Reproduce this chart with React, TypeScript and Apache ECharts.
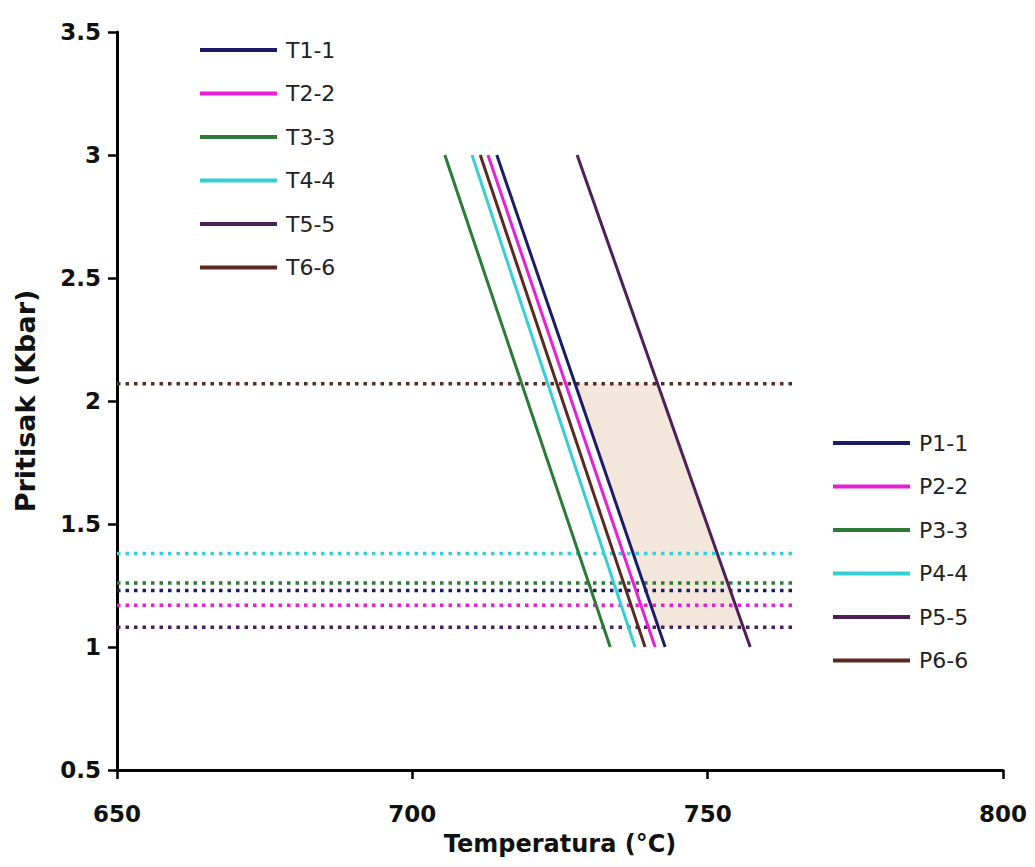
import React, { useEffect, useRef } from "react";
import * as echarts from "echarts";

// Geothermometer lines: temperature (°C) at P = 3 kbar and at P = 1 kbar
const tNames = ["T1-1", "T2-2", "T3-3", "T4-4", "T5-5", "T6-6"];
const tAtTop = [714.3, 712.8, 705.5, 710.1, 727.9, 711.5];
const tAtBottom = [742.8, 741.1, 733.5, 737.7, 757.2, 739.4];
const tPressures = [3, 1];

// Geobarometer values (kbar), drawn as dotted horizontals
const pNames = ["P1-1", "P2-2", "P3-3", "P4-4", "P5-5", "P6-6"];
const pValues = [1.23, 1.17, 1.26, 1.38, 1.08, 2.07];
const pRange = [650, 765];

const seriesColors = ["#1c1c66", "#e81fd8", "#2b7a35", "#35cfd6", "#4e1f58", "#5a2a22"];

// shaded field bounded by T1-1, T5-5 and the extreme pressures
const shadeLeft = "T1-1";
const shadeRight = "T5-5";
const shadePTop = 2.07;
const shadePBottom = 1.08;

const xTicks = [650, 700, 750, 800];
const yTicks = [0.5, 1, 1.5, 2, 2.5, 3, 3.5];

function tAt(name: string, p: number) {
  const i = tNames.indexOf(name);
  const f = (tPressures[0] - p) / (tPressures[0] - tPressures[1]);
  return tAtTop[i] + f * (tAtBottom[i] - tAtTop[i]);
}

export default function App() {
  const ref = useRef<HTMLDivElement>(null);
  useEffect(() => {
    if (!ref.current) return;
    const chart = echarts.init(ref.current, undefined, { renderer: "svg" });
    const shadeCorners = [
      [tAt(shadeLeft, shadePTop), shadePTop],
      [tAt(shadeRight, shadePTop), shadePTop],
      [tAt(shadeRight, shadePBottom), shadePBottom],
      [tAt(shadeLeft, shadePBottom), shadePBottom],
    ];
    const font = "DejaVu Sans, Verdana, sans-serif";
    const legendCommon = {
      orient: "vertical",
      icon: "rect",
      itemWidth: 77,
      itemHeight: 4,
      itemGap: 19.5,
      textStyle: { fontFamily: font, fontSize: 22, color: "#222", lineHeight: 24, padding: [0, 0, 0, 4] },
      selectedMode: false,
    };
    chart.setOption({
      animation: false,
      backgroundColor: "#ffffff",
      grid: { left: 117, right: 32, top: 32, bottom: 97 },
      xAxis: {
        type: "value",
        min: xTicks[0],
        max: xTicks[xTicks.length - 1],
        interval: 50,
        name: "Temperatura (°C)",
        nameLocation: "middle",
        nameGap: 62,
        nameTextStyle: { fontFamily: font, fontSize: 24, fontWeight: "bold", color: "#111" },
        axisLine: { onZero: false, lineStyle: { color: "#000", width: 3 } },
        axisTick: { show: true, length: 9, lineStyle: { color: "#000", width: 2.5 } },
        axisLabel: { fontFamily: font, fontSize: 23, fontWeight: "bold", color: "#111", margin: 32 },
        splitLine: { show: false },
      },
      yAxis: {
        type: "value",
        min: yTicks[0],
        max: yTicks[yTicks.length - 1],
        interval: 0.5,
        name: "Pritisak (Kbar)",
        nameLocation: "middle",
        nameGap: 78,
        nameTextStyle: { fontFamily: font, fontSize: 27, fontWeight: "bold", color: "#111" },
        axisLine: { onZero: false, lineStyle: { color: "#000", width: 3 } },
        axisTick: { show: true, length: 9, lineStyle: { color: "#000", width: 2.5 } },
        axisLabel: { fontFamily: font, fontSize: 23, fontWeight: "bold", color: "#111", margin: 16 },
        splitLine: { show: false },
      },
      legend: [
        { ...legendCommon, left: 195, top: 33, data: tNames },
        { ...legendCommon, left: 828, top: 426, data: pNames },
      ],
      series: [
        {
          type: "custom",
          name: "shade",
          silent: true,
          z: 1,
          data: [0],
          renderItem: (_p: any, api: any) => ({
            type: "polygon",
            shape: { points: shadeCorners.map((c) => api.coord(c)) },
            style: { fill: "#f3e6db" },
          }),
        },
        ...pNames.map((n, i) => ({
          type: "line",
          name: n,
          z: 2,
          symbol: "none",
          color: seriesColors[i],
          lineStyle: { width: 3.5, type: [3.5, 5], color: seriesColors[i] },
          data: pRange.map((t) => [t, pValues[i]]),
        })),
        ...tNames.map((n, i) => ({
          type: "line",
          name: n,
          z: 3,
          symbol: "none",
          color: seriesColors[i],
          lineStyle: { width: 3, color: seriesColors[i] },
          data: [
            [tAtTop[i], tPressures[0]],
            [tAtBottom[i], tPressures[1]],
          ],
        })),
      ],
    });
    return () => chart.dispose();
  }, []);
  return <div ref={ref} style={{ width: 1035, height: 867, margin: -8 }} />;
}
